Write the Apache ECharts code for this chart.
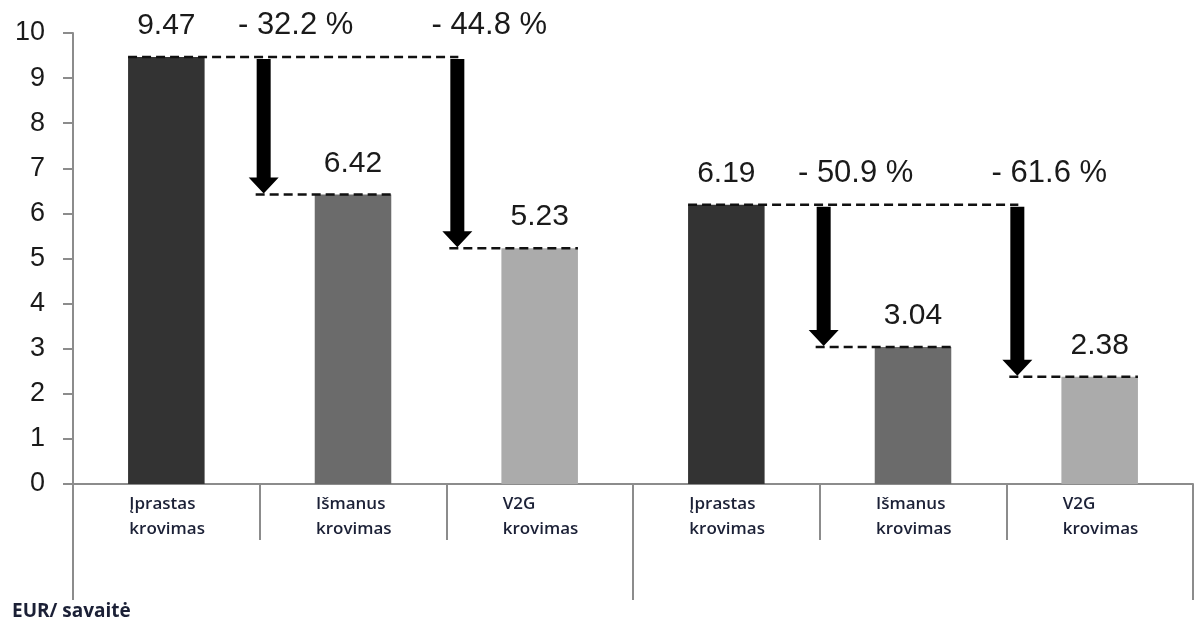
<!DOCTYPE html>
<html>
<head>
<meta charset="utf-8">
<script src="https://cdn.jsdelivr.net/npm/echarts@6/dist/echarts.min.js"></script>
<style>
  html, body { margin: 0; padding: 0; background: #fff; }
  #chart { width: 1195px; height: 628px; }
</style>
</head>
<body>
<div id="chart"></div>
<script>
// Weekly charging cost, EUR, for two scenarios of three charging modes each
const categories = [
  'Įprastas\nkrovimas', 'Išmanus\nkrovimas', 'V2G\nkrovimas',
  'Įprastas\nkrovimas', 'Išmanus\nkrovimas', 'V2G\nkrovimas'
];
const costs = [9.47, 6.42, 5.23, 6.19, 3.04, 2.38];
const groupStarts = [0, 3];
const reductions = ['- 32.2 %', '- 44.8 %', '- 50.9 %', '- 61.6 %'];
const unitLabel = 'EUR/ savaitė';

const barColors = ['#333333', '#6b6b6b', '#ababab'];
const axisGray = '#8c8c8c';
const valueFont = '"Liberation Sans", Arial, sans-serif';
const catFont = '"Open Sans", "Noto Sans", sans-serif';

// one arrow item per saving step: [groupStart, step, reduction index]
const steps = [];
groupStarts.forEach((g, gi) => {
  [1, 2].forEach(k => steps.push([g, k, gi * 2 + (k - 1)]));
});

function renderStep(params, api) {
  const g = api.value(0), k = api.value(1), r = api.value(2);
  const band = api.size([1, 0])[0];
  const barW = band * 0.41;
  const base = api.coord([g, costs[g]]);
  const target = api.coord([g + k, costs[g + k]]);
  const boundary = api.coord([g + k, 0])[0] - band / 2;
  const ax = boundary + (k === 1 ? 4 : 11);
  const top = base[1] + 2, tip = target[1] - 1;
  const shaft = 7, head = 15, headLen = 16;
  const dash = { stroke: '#111', lineWidth: 2.5, lineDash: [9, 5] };
  const children = [
    {
      type: 'polygon',
      shape: { points: [
        [ax - shaft, top], [ax + shaft, top], [ax + shaft, tip - headLen],
        [ax + head, tip - headLen], [ax, tip], [ax - head, tip - headLen],
        [ax - shaft, tip - headLen]
      ] },
      style: { fill: '#000' }
    },
    {
      type: 'line',
      shape: { x1: ax - 8, y1: target[1], x2: target[0] + barW / 2, y2: target[1] },
      style: dash
    },
    {
      type: 'text',
      style: {
        text: reductions[r], x: ax + 32, y: base[1] - 31,
        align: 'center', verticalAlign: 'middle',
        font: '31px ' + valueFont, fill: '#1a1a1a'
      }
    }
  ];
  if (k === 2) {
    children.push({
      type: 'line',
      shape: { x1: base[0] - barW / 2, y1: base[1], x2: ax + 1, y2: base[1] },
      style: dash
    });
  }
  return { type: 'group', children };
}

const chart = echarts.init(document.getElementById('chart'), null, { renderer: 'canvas' });
chart.setOption({
  animation: false,
  grid: { left: 73, right: 2, top: 33, bottom: 144, containLabel: false },
  xAxis: [
    {
      type: 'category',
      data: categories,
      boundaryGap: true,
      axisLine: { lineStyle: { color: axisGray, width: 2 } },
      axisTick: { show: true, interval: 0, length: 56, lineStyle: { color: axisGray, width: 2 } },
      axisLabel: {
        interval: 0,
        margin: 8,
        width: 74,
        align: 'center',
        formatter: v => v.split('\n').map(s => '{t|' + s + '}').join('\n'),
        rich: {
          t: {
            align: 'left', fontFamily: catFont, fontWeight: 600,
            fontSize: 17, lineHeight: 25, color: '#1b2036'
          }
        }
      }
    },
    {
      type: 'category',
      data: groupStarts.map(() => ''),
      position: 'bottom',
      boundaryGap: true,
      axisLine: { show: false },
      axisTick: { show: true, interval: 0, length: 116, lineStyle: { color: axisGray, width: 2 } },
      axisLabel: { show: false }
    }
  ],
  yAxis: {
    type: 'value',
    min: 0, max: 10, interval: 1,
    splitLine: { show: false },
    axisLine: { show: true, lineStyle: { color: axisGray, width: 2 } },
    axisTick: { show: true, length: 10, lineStyle: { color: axisGray, width: 2 } },
    axisLabel: { margin: 28, fontSize: 27, fontFamily: valueFont, color: '#1a1a1a' }
  },
  series: [
    {
      type: 'bar',
      xAxisIndex: 0,
      barWidth: '41%',
      data: costs.map((v, i) => ({ value: v, itemStyle: { color: barColors[i % 3] } })),
      label: {
        show: true, position: 'top', distance: 16,
        fontSize: 30, fontFamily: valueFont, color: '#1a1a1a',
        formatter: p => p.value.toFixed(2)
      }
    },
    {
      type: 'custom',
      xAxisIndex: 0,
      data: steps,
      encode: { x: 0, y: 1 },
      renderItem: renderStep,
      clip: false,
      z: 5
    }
  ],
  graphic: [
    {
      type: 'text', left: 12, top: 602,
      style: { text: unitLabel, font: 'bold 19px ' + catFont, fill: '#1b2036' }
    }
  ]
});
</script>
</body>
</html>
